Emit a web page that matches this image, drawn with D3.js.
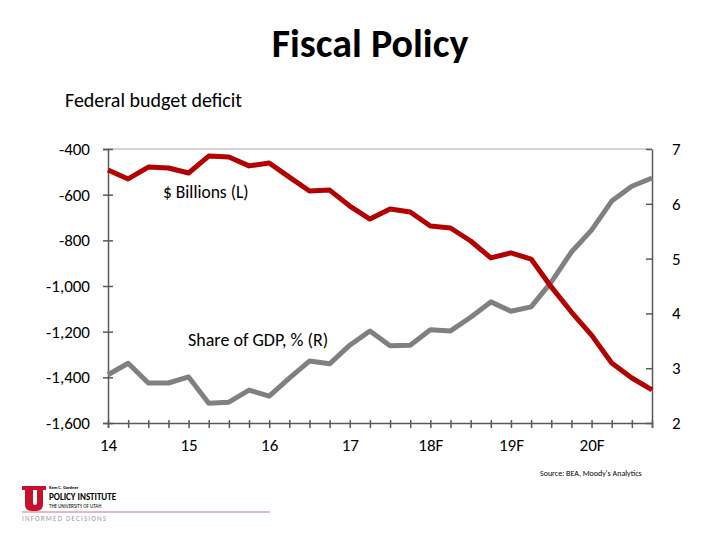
<!DOCTYPE html>
<html><head><meta charset="utf-8">
<script src="https://cdn.jsdelivr.net/npm/d3@7"></script>
<style>body{margin:0;background:#fff}svg{display:block;font-family:Calibri,Carlito,"Open Sans",sans-serif}</style>
</head><body><svg id="c" width="720" height="540"></svg>
<script>
const quarters = ["14Q1","14Q2","14Q3","14Q4","15Q1","15Q2","15Q3","15Q4","16Q1","16Q2","16Q3","16Q4","17Q1","17Q2","17Q3","17Q4","18Q1","18Q2","18Q3","18Q4","19Q1","19Q2","19Q3","19Q4","20Q1","20Q2","20Q3","20Q4"];
const xLabels = {"14Q1":"14","15Q1":"15","16Q1":"16","17Q1":"17","18Q1":"18F","19Q1":"19F","20Q1":"20F"};
const deficit = [-492,-531,-479,-483,-505,-431,-435,-474,-461,-523,-584,-580,-650,-707,-663,-676,-737,-746,-803,-877,-855,-882,-1004,-1114,-1215,-1337,-1403,-1455];
const shareGDP = [2.88,3.09,2.73,2.73,2.84,2.36,2.38,2.60,2.49,2.82,3.13,3.08,3.42,3.68,3.41,3.42,3.70,3.68,3.93,4.21,4.04,4.12,4.57,5.12,5.52,6.05,6.32,6.47];
const leftTicks = [-400,-600,-800,-1000,-1200,-1400,-1600];
const rightTicks = [7,6,5,4,3,2];

const svg = d3.select("#c");
const L = 108, R = 652, T = 149, B = 423;
const x = d3.scalePoint().domain(quarters).range([L, R]);
const yL = d3.scaleLinear().domain([-1600,-400]).range([B, T]);
const yR = d3.scaleLinear().domain([2,7]).range([B, T]);
const axisCol = "#595959";
const fam = "Calibri,Carlito,'Open Sans',sans-serif";
const fmtL = d => d3.format(",")(d).replace("\u2212","-");

svg.append("text").attr("x",370).attr("y",57).attr("text-anchor","middle")
  .attr("font-size",40).attr("font-weight","bold").attr("fill","#000").text("Fiscal Policy");
svg.append("text").attr("x",65).attr("y",107).attr("font-size",20).attr("fill","#000").text("Federal budget deficit");

// top border
svg.append("line").attr("x1",L).attr("x2",R).attr("y1",T).attr("y2",T).attr("stroke","#a6a6a6").attr("stroke-width",1);

// left axis
const gl = svg.append("g").attr("transform",`translate(${L},0)`)
  .call(d3.axisLeft(yL).tickValues(leftTicks).tickSize(5).tickFormat(fmtL));
gl.selectAll("line").attr("stroke",axisCol).attr("stroke-width",1.5).attr("x2",-5).attr("x1",5);
gl.select(".domain").attr("stroke",axisCol).attr("stroke-width",1.5);
gl.selectAll("text").attr("x",-18).attr("font-size",17).attr("fill","#000").attr("font-family",fam);

// right axis
const gr = svg.append("g").attr("transform",`translate(${R},0)`)
  .call(d3.axisRight(yR).tickValues(rightTicks).tickSize(0).tickFormat(d3.format("d")));
gr.selectAll("line").attr("stroke",axisCol).attr("stroke-width",1.5).attr("x1",-6).attr("x2",0);
gr.select(".domain").attr("stroke",axisCol).attr("stroke-width",1.5);
gr.selectAll("text").attr("x",20).attr("font-size",17).attr("fill","#000").attr("font-family",fam);

// bottom axis
const gb = svg.append("g").attr("transform",`translate(0,${B})`)
  .call(d3.axisBottom(x).tickSize(5).tickFormat(d => xLabels[d] || ""));
gb.selectAll("line").attr("stroke",axisCol).attr("stroke-width",1.5).attr("y1",-3).attr("y2",5);
gb.select(".domain").attr("stroke",axisCol).attr("stroke-width",1.5);
gb.selectAll("text").attr("y",16).attr("font-size",17).attr("fill","#000").attr("font-family",fam);

// lines
const lineL = d3.line().x((d,i)=>x(quarters[i])).y(d=>yL(d));
const lineR = d3.line().x((d,i)=>x(quarters[i])).y(d=>yR(d));
svg.append("path").datum(shareGDP).attr("d",lineR).attr("fill","none").attr("stroke","#808080").attr("stroke-width",5).attr("stroke-linejoin","round");
svg.append("path").datum(deficit).attr("d",lineL).attr("fill","none").attr("stroke","#b30000").attr("stroke-width",5).attr("stroke-linejoin","round");

// annotations
svg.append("text").attr("x",163).attr("y",198).attr("font-size",17.5).attr("fill","#000").text("$ Billions (L)");
svg.append("text").attr("x",188).attr("y",346).attr("font-size",18).attr("fill","#000").text("Share of GDP, % (R)");
svg.append("text").attr("x",540).attr("y",476).attr("font-size",8).attr("fill","#000").text("Source: BEA, Moody's Analytics");

// logo
const lg = svg.append("g");
lg.append("path").attr("fill","#c8102e")
  .attr("d","M22,486 H35 V490 H33 V503 Q33,505 35,505 Q37,505 37,503 V490 H35 V486 H46 V490 H43 V504 Q43,511 36,511 H32 Q25,511 25,504 V490 H22 Z");
lg.append("text").attr("x",49).attr("y",488.5).attr("font-size",4.5).attr("font-weight","bold").attr("fill","#000").text("Kem C. Gardner");
lg.append("text").attr("x",49).attr("y",500).attr("font-size",9).attr("font-weight","bold").attr("fill","#000").text("POLICY INSTITUTE");
lg.append("text").attr("x",49).attr("y",508).attr("font-size",5).attr("fill","#000").text("THE UNIVERSITY OF UTAH");
lg.append("line").attr("x1",22).attr("x2",270).attr("y1",512).attr("y2",512).attr("stroke","#e0a0a8").attr("stroke-width",1.5);
lg.append("text").attr("x",22).attr("y",521).attr("font-size",7).attr("letter-spacing",1.2).attr("fill","#999").text("INFORMED DECISIONS");
</script></body></html>
